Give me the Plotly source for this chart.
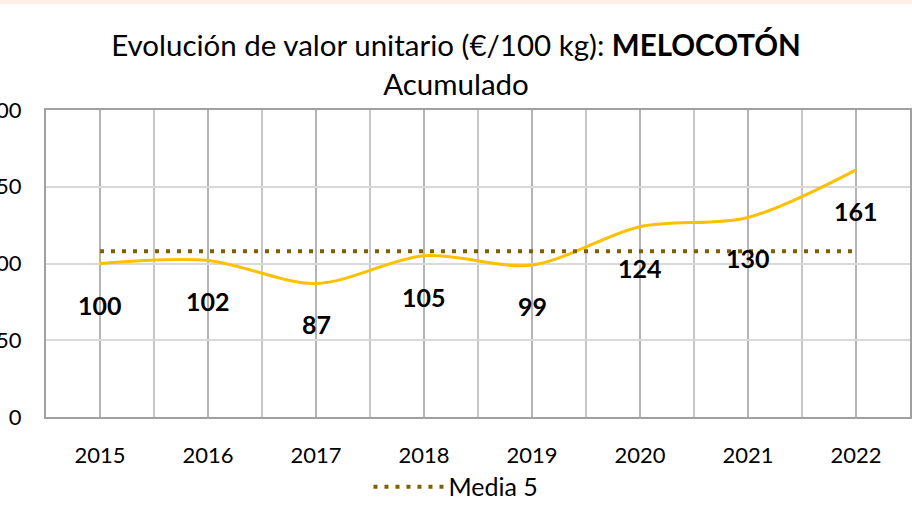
import plotly.graph_objects as go

years = ["2015", "2016", "2017", "2018", "2019", "2020", "2021", "2022"]
values = [100, 102, 87, 105, 99, 124, 130, 161]
media5 = [108, 108, 108, 108, 108, 108, 108, 108]
y_ticks = [0, 50, 100, 150, 200]

FONT = "Lato"

fig = go.Figure()
fig.add_trace(go.Scatter(
    x=years, y=values, mode="lines", name="Acumulado",
    line=dict(color="#FFC000", width=3, shape="spline", smoothing=0.9),
    showlegend=False, hoverinfo="x+y"))
fig.add_trace(go.Scatter(
    x=years, y=media5, mode="lines", name="Media 5",
    line=dict(color="#7F6000", width=4, dash="4px,7px")))

for i, v in enumerate(values):
    fig.add_annotation(x=i, y=v, text="<b>%d</b>" % v, showarrow=False,
                       yshift=-41, font=dict(family=FONT, size=25, color="#000000"))

# vertical gridlines between categories (Excel-style)
for i in range(len(years) - 1):
    fig.add_shape(type="line", xref="x", yref="paper", x0=i + 0.5, x1=i + 0.5,
                  y0=0, y1=1, line=dict(color="#B4B4B4", width=1.5), layer="below")

# top beige strip
fig.add_shape(type="rect", xref="paper", yref="paper", x0=-1, x1=2, y0=1.345, y1=1.5,
              fillcolor="#FCF0E4", line=dict(width=0), layer="below")

fig.update_layout(
    width=912, height=512,
    margin=dict(l=46, r=2, t=110, b=95, autoexpand=False),
    paper_bgcolor="white", plot_bgcolor="white",
    font=dict(family=FONT, size=22, color="#000000"),
    title=dict(text="Evolución de valor unitario (€/100 kg): <b>MELOCOTÓN</b><br>Acumulado",
               x=0.5, xanchor="center", y=0.89, yanchor="top",
               font=dict(family=FONT, size=29.5, color="#000000")),
    showlegend=True,
    legend=dict(orientation="h", x=0.4745, xanchor="center", y=-0.153, yanchor="top",
                font=dict(family=FONT, size=25), itemwidth=70, bgcolor="rgba(0,0,0,0)"),
    xaxis=dict(type="category", range=[-0.5, 7.5], showgrid=True, gridcolor="#B4B4B4",
               gridwidth=1.5, showline=True, linecolor="#A0A0A0", linewidth=2, mirror=True,
               ticks="", ticklabelstandoff=18, tickfont=dict(family=FONT, size=22),
               automargin=False, fixedrange=True),
    yaxis=dict(range=[0, 200], tickvals=y_ticks, showgrid=True, gridcolor="#D9D9D9",
               gridwidth=1.5, showline=True, linecolor="#A0A0A0", linewidth=2, mirror=True,
               ticks="", ticklabelstandoff=18, tickfont=dict(family=FONT, size=22),
               zeroline=False, automargin=False, fixedrange=True),
)

fig.write_html("out.html", config={"displayModeBar": False},
               post_script="document.body.style.margin='0';document.body.style.overflow='hidden';")
